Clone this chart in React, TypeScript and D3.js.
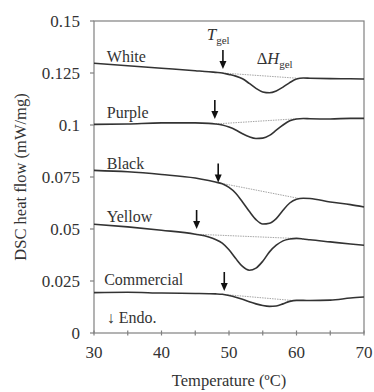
import { useEffect, useRef } from "react";
import * as d3 from "d3";

// temperature grid (ºC) shared by all traces
const temps = [30, 35, 40, 45, 47, 48, 49, 50, 51, 52, 53, 54, 55, 56, 57, 58, 59, 60, 61, 62, 65, 68, 70];

const white = [0.1297, 0.1285, 0.1273, 0.1261, 0.1256, 0.1253, 0.125, 0.1243, 0.1235, 0.1222, 0.12, 0.1176, 0.1159, 0.1155, 0.1164, 0.1182, 0.1204, 0.1221, 0.1226, 0.1225, 0.1223, 0.1222, 0.1221];
const purple = [0.1003, 0.1005, 0.101, 0.101, 0.1008, 0.1005, 0.1, 0.099, 0.0976, 0.0958, 0.0943, 0.0935, 0.0937, 0.095, 0.0975, 0.1, 0.102, 0.1029, 0.1031, 0.103, 0.1029, 0.1032, 0.1032];
const black = [0.0782, 0.0775, 0.0762, 0.0745, 0.0733, 0.0726, 0.0717, 0.07, 0.0672, 0.063, 0.0585, 0.0545, 0.0524, 0.0528, 0.055, 0.059, 0.0625, 0.0643, 0.0648, 0.0647, 0.063, 0.0617, 0.0606];
const yellow = [0.0523, 0.051, 0.0494, 0.0475, 0.0462, 0.045, 0.0432, 0.04, 0.0358, 0.032, 0.0302, 0.0312, 0.0345, 0.039, 0.0422, 0.0443, 0.0452, 0.0455, 0.0452, 0.0448, 0.0438, 0.0428, 0.0422];
const commercial = [0.0194, 0.0196, 0.0192, 0.019, 0.0189, 0.0188, 0.0186, 0.018, 0.0172, 0.0162, 0.015, 0.014, 0.0132, 0.0128, 0.013, 0.014, 0.0152, 0.0157, 0.0157, 0.0156, 0.0158, 0.0168, 0.0173];

const seriesNames = ["White", "Purple", "Black", "Yellow", "Commercial"];
const seriesValues = [white, purple, black, yellow, commercial];

// baseline segments [t0, v0, t1, v1]
const baselines = [
  [49, 0.125, 60.5, 0.1224],
  [48, 0.1005, 60, 0.103],
  [48.5, 0.0722, 60.5, 0.0646],
  [45, 0.0475, 59.5, 0.0455],
  [49, 0.0186, 59.5, 0.0156],
];

// Tgel arrows: temperature and tip value
const arrowTemps = [49.1, 47.9, 48.4, 45.2, 49.3];
const arrowTips = [0.1269, 0.1029, 0.0724, 0.05, 0.0202];

// label anchors [t, v]
const labelPos = [
  [31.9, 0.1303],
  [31.9, 0.1034],
  [31.9, 0.0788],
  [31.9, 0.0534],
  [31.5, 0.0231],
];

const xTicks = [30, 35, 40, 45, 50, 55, 60, 65, 70];
const xTickLabels = [30, 40, 50, 60, 70];
const yTicks = [0, 0.025, 0.05, 0.075, 0.1, 0.125, 0.15];

const W = 374;
const H = 392;
const margin = { top: 21, right: 10, bottom: 59, left: 94 };
const font = "'Liberation Serif', 'Times New Roman', serif";

export default function App() {
  const ref = useRef<SVGSVGElement | null>(null);

  useEffect(() => {
    const svg = d3.select(ref.current);
    svg.selectAll("*").remove();

    const x = d3.scaleLinear().domain([30, 70]).range([margin.left, W - margin.right]);
    const y = d3.scaleLinear().domain([0, 0.15]).range([H - margin.bottom, margin.top]);

    const g = svg.append("g");
    const frameColor = "#808080";
    const ink = "#333";

    // frame
    g.append("rect")
      .attr("x", x(30))
      .attr("y", y(0.15))
      .attr("width", x(70) - x(30))
      .attr("height", y(0) - y(0.15))
      .attr("fill", "none")
      .attr("stroke", frameColor)
      .attr("stroke-width", 1.2);

    // x ticks (cross the axis)
    g.selectAll(".xt")
      .data(xTicks)
      .join("line")
      .attr("x1", (d) => x(d))
      .attr("x2", (d) => x(d))
      .attr("y1", y(0) - 2.5)
      .attr("y2", y(0) + 2.5)
      .attr("stroke", frameColor)
      .attr("stroke-width", 1.2);

    g.selectAll(".xl")
      .data(xTickLabels)
      .join("text")
      .attr("x", (d) => x(d))
      .attr("y", y(0) + 25)
      .attr("text-anchor", "middle")
      .attr("font-family", font)
      .attr("font-size", 17)
      .attr("fill", ink)
      .text((d) => d);

    // y ticks (outward)
    g.selectAll(".yt")
      .data(yTicks)
      .join("line")
      .attr("x1", x(30) - 4)
      .attr("x2", x(30))
      .attr("y1", (d) => y(d))
      .attr("y2", (d) => y(d))
      .attr("stroke", frameColor)
      .attr("stroke-width", 1.2);

    g.selectAll(".yl")
      .data(yTicks)
      .join("text")
      .attr("x", x(30) - 14)
      .attr("y", (d) => y(d) + 5.5)
      .attr("text-anchor", "end")
      .attr("font-family", font)
      .attr("font-size", 17)
      .attr("fill", ink)
      .text((d) => (d === 0 ? "0" : String(d)));

    // axis titles
    g.append("text")
      .attr("x", (x(30) + x(70)) / 2)
      .attr("y", H - 6)
      .attr("text-anchor", "middle")
      .attr("font-family", font)
      .attr("font-size", 16.5)
      .attr("fill", ink)
      .text("Temperature (ºC)");

    g.append("text")
      .attr("transform", `translate(26,${(y(0) + y(0.15)) / 2}) rotate(-90)`)
      .attr("text-anchor", "middle")
      .attr("font-family", font)
      .attr("font-size", 16.5)
      .attr("fill", ink)
      .text("DSC heat flow (mW/mg)");

    // baselines
    g.selectAll(".bl")
      .data(baselines)
      .join("line")
      .attr("x1", (d) => x(d[0]))
      .attr("y1", (d) => y(d[1]))
      .attr("x2", (d) => x(d[2]))
      .attr("y2", (d) => y(d[3]))
      .attr("stroke", "#9a9a9a")
      .attr("stroke-width", 0.9)
      .attr("stroke-dasharray", "1.5,1");

    // traces
    const line = d3
      .line<number>()
      .x((_, i) => x(temps[i]))
      .y((d) => y(d))
      .curve(d3.curveMonotoneX);

    g.selectAll(".trace")
      .data(seriesValues)
      .join("path")
      .attr("d", (d) => line(d))
      .attr("fill", "none")
      .attr("stroke", ink)
      .attr("stroke-width", 1.6);

    // labels
    g.selectAll(".lab")
      .data(seriesNames)
      .join("text")
      .attr("x", (_, i) => x(labelPos[i][0]))
      .attr("y", (_, i) => y(labelPos[i][1]))
      .attr("font-family", font)
      .attr("font-size", 16)
      .attr("fill", ink)
      .text((d) => d);

    // arrows
    const arrows = g.selectAll(".arr").data(arrowTemps).join("g");
    arrows
      .append("line")
      .attr("x1", (d) => x(d))
      .attr("x2", (d) => x(d))
      .attr("y1", (_, i) => y(arrowTips[i]) - 19)
      .attr("y2", (_, i) => y(arrowTips[i]) - 5)
      .attr("stroke", "#111")
      .attr("stroke-width", 1.6);
    arrows
      .append("path")
      .attr("d", (d, i) => {
        const ax = x(d);
        const ay = y(arrowTips[i]);
        return `M${ax - 3.5},${ay - 8} L${ax + 3.5},${ay - 8} L${ax},${ay} Z`;
      })
      .attr("fill", "#111");

    // Tgel label
    const tg = g.append("text")
      .attr("x", x(46.7))
      .attr("y", 40)
      .attr("font-family", font)
      .attr("font-size", 17)
      .attr("fill", ink);
    tg.append("tspan").attr("font-style", "italic").text("T");
    tg.append("tspan").attr("font-size", 11).attr("dy", 4).text("gel");

    // ΔHgel label
    const dh = g.append("text")
      .attr("x", x(54.1))
      .attr("y", 64)
      .attr("font-family", font)
      .attr("font-size", 16.5)
      .attr("fill", ink);
    dh.append("tspan").text("Δ");
    dh.append("tspan").attr("font-style", "italic").text("H");
    dh.append("tspan").attr("font-size", 11).attr("dy", 4).text("gel");

    // endo label
    g.append("text")
      .attr("x", x(31.9))
      .attr("y", y(0.0048))
      .attr("font-family", font)
      .attr("font-size", 16)
      .attr("fill", ink)
      .text("↓ Endo.");
  }, []);

  return (
    <svg
      ref={ref}
      width={W}
      height={H}
      style={{ position: "absolute", left: 0, top: 0, background: "#fff" }}
    />
  );
}
